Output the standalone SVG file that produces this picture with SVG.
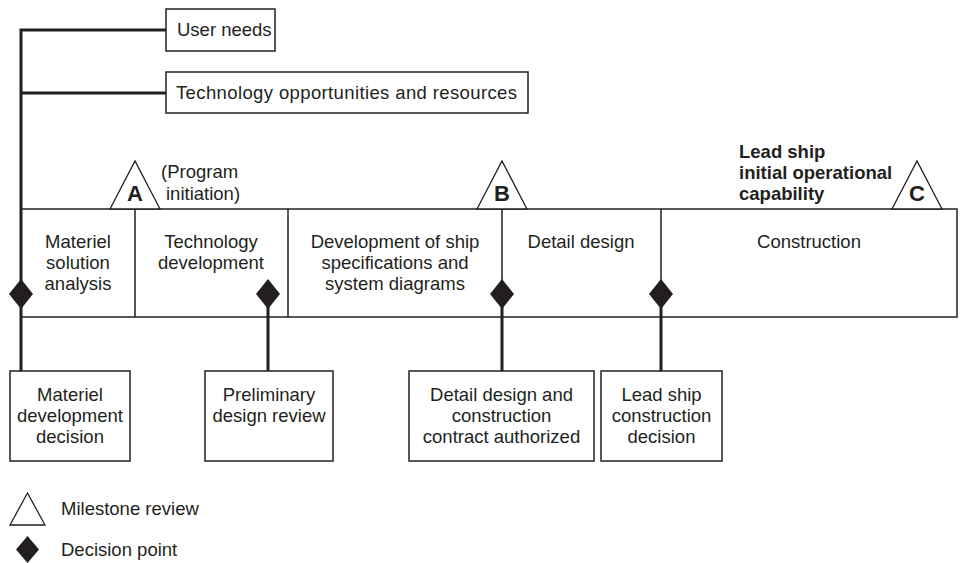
<svg xmlns="http://www.w3.org/2000/svg" width="962" height="563" viewBox="0 0 962 563">
<defs>
<style>
text{font-family:"Liberation Sans",Arial,sans-serif;font-size:18.5px;fill:#231f20}
.c{text-anchor:middle}
.b{font-weight:bold}
.L{font-size:22px;font-weight:bold;text-anchor:middle}
.box{fill:#fff;stroke:#231f20;stroke-width:1.5}
.thin{stroke:#231f20;stroke-width:1.5;fill:none}
.thick{stroke:#231f20;stroke-width:3;fill:none}
.tri{fill:#fff;stroke:#231f20;stroke-width:1.3}
.dia{fill:#231f20}
</style>
</defs>
<rect width="962" height="563" fill="#fff"/>
<g id="bar">
<rect class="box" x="21" y="209" width="936" height="108"/>
<line class="thin" x1="135" y1="209" x2="135" y2="317"/>
<line class="thin" x1="288" y1="209" x2="288" y2="317"/>
<line class="thin" x1="502" y1="209" x2="502" y2="317"/>
<line class="thin" x1="661" y1="209" x2="661" y2="317"/>
</g>
<g id="connectors">
<polyline class="thick" points="166,30 21,30 21,371"/>
<line class="thick" x1="21" y1="93" x2="166" y2="93"/>
<line class="thick" x1="268" y1="294" x2="268" y2="371"/>
<line class="thick" x1="502" y1="294" x2="502" y2="371"/>
<line class="thick" x1="661" y1="294" x2="661" y2="371"/>
</g>
<g id="user-needs">
<rect class="box" x="166" y="9" width="109" height="42"/>
<text x="177" y="36">User needs</text>
</g>
<g id="tech-opps">
<rect class="box" x="166" y="72" width="362" height="41"/>
<text x="176" y="99" textLength="341" lengthAdjust="spacing">Technology opportunities and resources</text>
</g>
<g id="phase-msa">
<text class="c" x="78" y="248">Materiel</text>
<text class="c" x="78" y="269">solution</text>
<text class="c" x="78" y="290">analysis</text>
</g>
<g id="phase-td">
<text class="c" x="211" y="248">Technology</text>
<text class="c" x="211" y="269">development</text>
</g>
<g id="phase-spec">
<text class="c" x="395" y="248">Development of ship</text>
<text class="c" x="395" y="269">specifications and</text>
<text class="c" x="395" y="290">system diagrams</text>
</g>
<g id="phase-dd">
<text class="c" x="581" y="248">Detail design</text>
</g>
<g id="phase-con">
<text class="c" x="809" y="248">Construction</text>
</g>
<g id="milestone-A">
<polygon class="tri" points="110,209 135,161 160,209"/>
<text class="L" x="135" y="201">A</text>
<text x="161" y="178">(Program</text>
<text x="166" y="200">initiation)</text>
</g>
<g id="milestone-B">
<polygon class="tri" points="477,209 502,161 527,209"/>
<text class="L" x="502" y="201">B</text>
</g>
<g id="milestone-C">
<polygon class="tri" points="892,209 917,161 942,209"/>
<text class="L" x="917" y="201">C</text>
<text class="b" x="739" y="158">Lead ship</text>
<text class="b" x="739" y="179">initial operational</text>
<text class="b" x="739" y="200">capability</text>
</g>
<g id="decision-1"><polygon class="dia" points="21,279 33,294 21,309 9,294"/></g>
<g id="decision-2"><polygon class="dia" points="268,279 280,294 268,309 256,294"/></g>
<g id="decision-3"><polygon class="dia" points="502,279 514,294 502,309 490,294"/></g>
<g id="decision-4"><polygon class="dia" points="661,279 673,294 661,309 649,294"/></g>
<g id="mdd">
<rect class="box" x="10" y="371" width="120" height="90"/>
<text class="c" x="70" y="401">Materiel</text>
<text class="c" x="70" y="422">development</text>
<text class="c" x="70" y="443">decision</text>
</g>
<g id="pdr">
<rect class="box" x="205" y="371" width="128" height="90"/>
<text class="c" x="269" y="401">Preliminary</text>
<text class="c" x="269" y="422">design review</text>
</g>
<g id="ddc">
<rect class="box" x="409" y="371" width="185" height="90"/>
<text class="c" x="501.5" y="401">Detail design and</text>
<text class="c" x="501.5" y="422">construction</text>
<text class="c" x="501.5" y="443">contract authorized</text>
</g>
<g id="lscd">
<rect class="box" x="601" y="371" width="121" height="90"/>
<text class="c" x="661.5" y="401">Lead ship</text>
<text class="c" x="661.5" y="422">construction</text>
<text class="c" x="661.5" y="443">decision</text>
</g>
<g id="legend">
<polygon class="tri" points="10,525 27.5,493 45,525"/>
<text x="61" y="515">Milestone review</text>
<polygon class="dia" points="27.5,536 39,549.5 27.5,563 16,549.5"/>
<text x="61" y="556">Decision point</text>
</g>
</svg>
